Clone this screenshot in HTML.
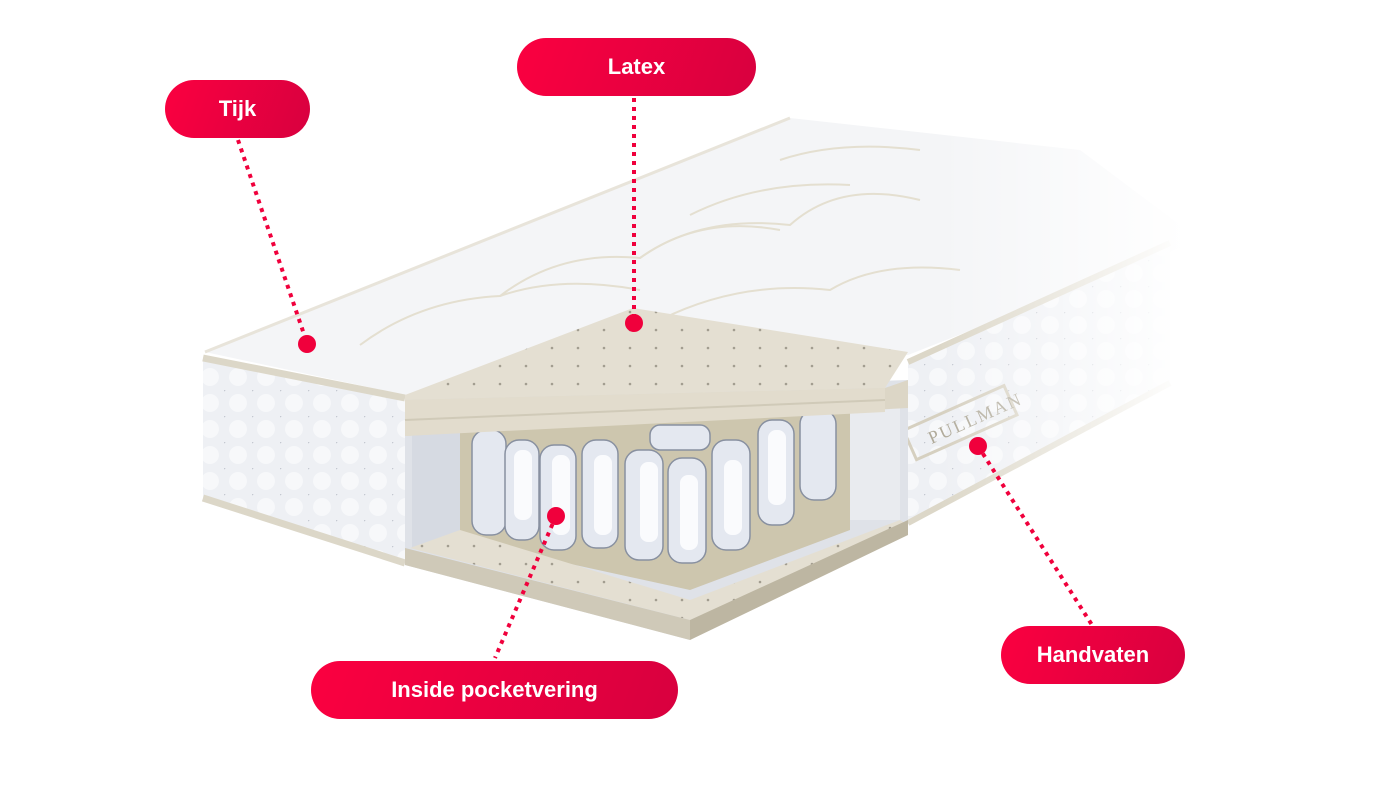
<!DOCTYPE html>
<html><head><meta charset="utf-8"><style>
html,body{margin:0;padding:0;background:#fff;width:1380px;height:800px;overflow:hidden}
.pill{position:absolute;height:58px;border-radius:29px;background:linear-gradient(110deg,#fb0040,#d8003f);color:#fff;font-family:"Liberation Sans",sans-serif;font-weight:bold;font-size:22px;display:flex;align-items:center;justify-content:center}
svg{position:absolute;left:0;top:0}
</style></head><body>
<svg width="1380" height="800" viewBox="0 0 1380 800">
<defs>
<linearGradient id="fade" x1="0" y1="0" x2="1" y2="0">
<stop offset="0" stop-color="#fff" stop-opacity="0"/><stop offset="0.68" stop-color="#fff" stop-opacity="0"/><stop offset="0.86" stop-color="#fff" stop-opacity="1"/><stop offset="1" stop-color="#fff" stop-opacity="1"/></linearGradient>
<linearGradient id="fadeT" x1="0" y1="0" x2="0" y2="1">
<stop offset="0" stop-color="#fff" stop-opacity="1"/><stop offset="0.15" stop-color="#fff" stop-opacity="0.6"/><stop offset="0.3" stop-color="#fff" stop-opacity="0"/></linearGradient>
<pattern id="tuft" width="28" height="26" patternUnits="userSpaceOnUse"><rect width="28" height="26" fill="#eef0f4"/><circle cx="14" cy="13" r="9" fill="#f7f8fa"/><circle cx="0" cy="0" r="1.4" fill="#c4c8d0"/></pattern>
<pattern id="dots" width="26" height="18" patternUnits="userSpaceOnUse"><rect width="26" height="18" fill="#e4dfd2"/><circle cx="6" cy="6" r="1.3" fill="#a29d90"/></pattern>
</defs>
<!-- top surface -->
<polygon points="205,352 790,118 1080,150 1200,240 908,355 405,395" fill="#f4f5f7"/>
<g fill="none" stroke="#e4dfd0" stroke-width="2">
<path d="M360,345 Q420,300 500,296 Q560,275 640,290"/>
<path d="M500,296 Q560,250 640,258 Q700,215 780,230"/>
<path d="M640,258 Q700,215 790,225 Q840,180 920,200"/>
<path d="M690,215 Q760,180 850,185"/>
<path d="M780,160 Q840,140 920,150"/>
<path d="M660,320 Q740,280 830,290 Q880,260 960,270"/>
</g>
<!-- left block front -->
<polygon points="203,360 405,398 405,565 203,500" fill="url(#tuft)"/>
<path d="M203,358 L405,398" stroke="#dcd7c8" stroke-width="7"/>
<path d="M203,498 L405,563" stroke="#dcd7c8" stroke-width="7"/>
<path d="M205,352 L790,118" stroke="#e8e4da" stroke-width="3"/>
<!-- right block front -->
<polygon points="908,362 1170,245 1170,385 908,525" fill="url(#tuft)"/>
<path d="M908,362 L1170,243" stroke="#dcd7c8" stroke-width="6"/>
<path d="M908,523 L1170,383" stroke="#dcd7c8" stroke-width="6"/>
<g transform="translate(910,445) rotate(-24)"><rect x="0" y="-16" width="110" height="32" fill="none" stroke="#d6d0c0" stroke-width="3"/><text x="20" y="8" font-family="Liberation Serif,serif" font-size="18" fill="#b0aa9a" letter-spacing="2">PULLMAN</text></g>
<!-- cutout interior -->
<polygon points="405,395 908,380 908,525 690,640 405,565" fill="#dfe2e8"/>
<polygon points="412,430 460,430 460,548 412,548" fill="#d6dae2"/>
<polygon points="850,400 900,395 900,520 850,520" fill="#e9ebef"/>
<polygon points="460,425 850,405 850,530 690,590 460,540" fill="#cdc6ae"/>
<!-- springs -->
<g fill="#e4e8f0" stroke="#8890a0" stroke-width="1.5">
<rect x="472" y="430" width="34" height="105" rx="14"/>
<rect x="505" y="440" width="34" height="100" rx="14"/>
<rect x="540" y="445" width="36" height="105" rx="14"/>
<rect x="582" y="440" width="36" height="108" rx="14"/>
<rect x="625" y="450" width="38" height="110" rx="14"/>
<rect x="668" y="458" width="38" height="105" rx="14"/>
<rect x="712" y="440" width="38" height="110" rx="14"/>
<rect x="758" y="420" width="36" height="105" rx="14"/>
<rect x="800" y="410" width="36" height="90" rx="14"/>
<rect x="650" y="425" width="60" height="25" rx="10"/>
</g>
<g fill="#fafbfd"><rect x="514" y="450" width="18" height="70" rx="8"/><rect x="552" y="455" width="18" height="80" rx="8"/><rect x="594" y="455" width="18" height="80" rx="8"/><rect x="640" y="462" width="18" height="80" rx="8"/><rect x="680" y="475" width="18" height="75" rx="8"/><rect x="724" y="460" width="18" height="75" rx="8"/><rect x="768" y="430" width="18" height="75" rx="8"/></g>
<!-- bottom slab -->
<polygon points="410,548 460,530 690,600 900,520 908,525 690,620" fill="url(#dots)"/>
<polygon points="405,548 690,620 690,640 405,565" fill="#cfc9b8"/>
<polygon points="690,620 908,520 908,535 690,640" fill="#bdb6a2"/>
<!-- top latex slab -->
<polygon points="405,395 633,308 908,352 885,388 405,400" fill="url(#dots)"/>
<polygon points="405,400 885,388 908,380 908,408 405,436" fill="#dcd6c6"/>
<polygon points="405,400 885,388 885,412 405,436" fill="#e2dccd"/>
<line x1="405" y1="420" x2="885" y2="400" stroke="#d0cab8" stroke-width="2"/>
<!-- fade right -->
<rect x="0" y="0" width="1380" height="800" fill="url(#fade)"/>
<!-- connectors -->
<g stroke="#f0003c" stroke-width="4" stroke-dasharray="4,5" fill="none">
<line x1="238" y1="140" x2="307" y2="343"/>
<line x1="634" y1="98" x2="634" y2="322"/>
<line x1="556" y1="516" x2="495" y2="658"/>
<line x1="978" y1="446" x2="1092" y2="625"/>
</g>
<g fill="#f0003c"><circle cx="307" cy="344" r="9"/><circle cx="634" cy="323" r="9"/><circle cx="556" cy="516" r="9"/><circle cx="978" cy="446" r="9"/></g>
</svg>
<div class="pill" style="left:165px;top:80px;width:145px">Tijk</div>
<div class="pill" style="left:517px;top:38px;width:239px">Latex</div>
<div class="pill" style="left:311px;top:661px;width:367px">Inside pocketvering</div>
<div class="pill" style="left:1001px;top:626px;width:184px">Handvaten</div>
</body></html>
